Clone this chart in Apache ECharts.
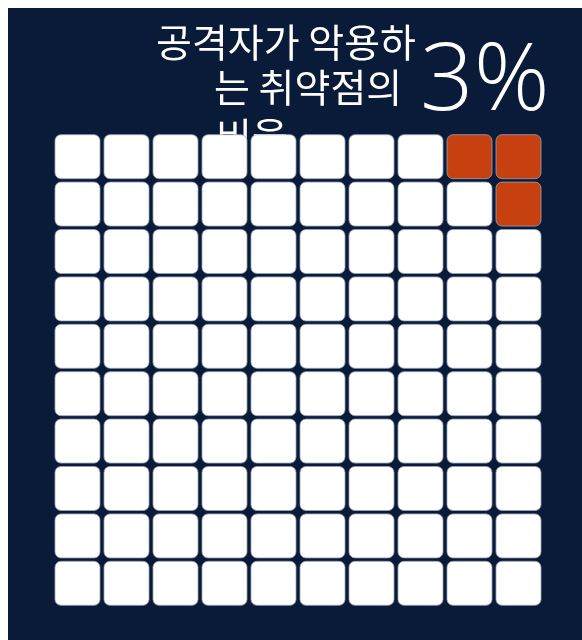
<!DOCTYPE html>
<html>
<head>
<meta charset="utf-8">
<script src="https://cdn.jsdelivr.net/npm/echarts@6/dist/echarts.min.js"></script>
<style>
html,body{margin:0;padding:0;background:#ffffff;}
#chart{position:absolute;left:8px;top:8px;width:574px;height:632px;}
</style>
</head>
<body>
<div id="chart"></div>
<script>
// Data
const xCategories = ['1','2','3','4','5','6','7','8','9','10'];
const yCategories = ['1','2','3','4','5','6','7','8','9','10'];
const percentValue = 3;
const percentLabel = '3%';
const highlightedCells = [[8,0],[9,0],[9,1]]; // [column, row]
const titleLines = ['공격자가 악용하', '는 취약점의', '비율'];

const cells = [];
for (let r = 0; r < yCategories.length; r++) {
  for (let c = 0; c < xCategories.length; c++) {
    const hit = highlightedCells.some(h => h[0] === c && h[1] === r) ? 1 : 0;
    cells.push([c, r, hit]);
  }
}

const chart = echarts.init(document.getElementById('chart'));
const titleFont = '"Noto Sans CJK KR", "Noto Sans", sans-serif';
chart.setOption({
  backgroundColor: '#0a1b3a',
  animation: false,
  grid: {left: 45, top: 125, width: 490, height: 474},
  xAxis: {type: 'category', data: xCategories, show: false},
  yAxis: {type: 'category', data: yCategories, inverse: true, show: false},
  graphic: [
    {type: 'text', left: 148, top: 15, z: 1, style: {text: titleLines[0], fill: '#ffffff', font: '39px ' + titleFont}},
    {type: 'text', left: 206, top: 60, z: 1, style: {text: titleLines[1], fill: '#ffffff', font: '39px ' + titleFont}},
    {type: 'text', left: 208, top: 109, z: 1, style: {text: titleLines[2], fill: '#ffffff', font: '39px ' + titleFont}},
    {type: 'text', left: 412, top: 28, z: 1, style: {text: percentLabel, fill: '#ffffff', font: '300 94px "Open Sans", "Noto Sans", sans-serif'}}
  ],
  series: [{
    type: 'custom',
    z: 5,
    coordinateSystem: 'cartesian2d',
    data: cells,
    renderItem: function (params, api) {
      const center = api.coord([api.value(0), api.value(1)]);
      const size = api.size([1, 1]);
      const w = size[0] - 4;
      const h = size[1] - 3.4;
      return {
        type: 'rect',
        shape: {x: center[0] - w / 2, y: center[1] - h / 2, width: w, height: h, r: 6},
        style: {
          fill: api.value(2) ? '#c6410f' : '#ffffff',
          stroke: '#9aa3b5',
          lineWidth: 0.8
        }
      };
    }
  }]
});
</script>
</body>
</html>
